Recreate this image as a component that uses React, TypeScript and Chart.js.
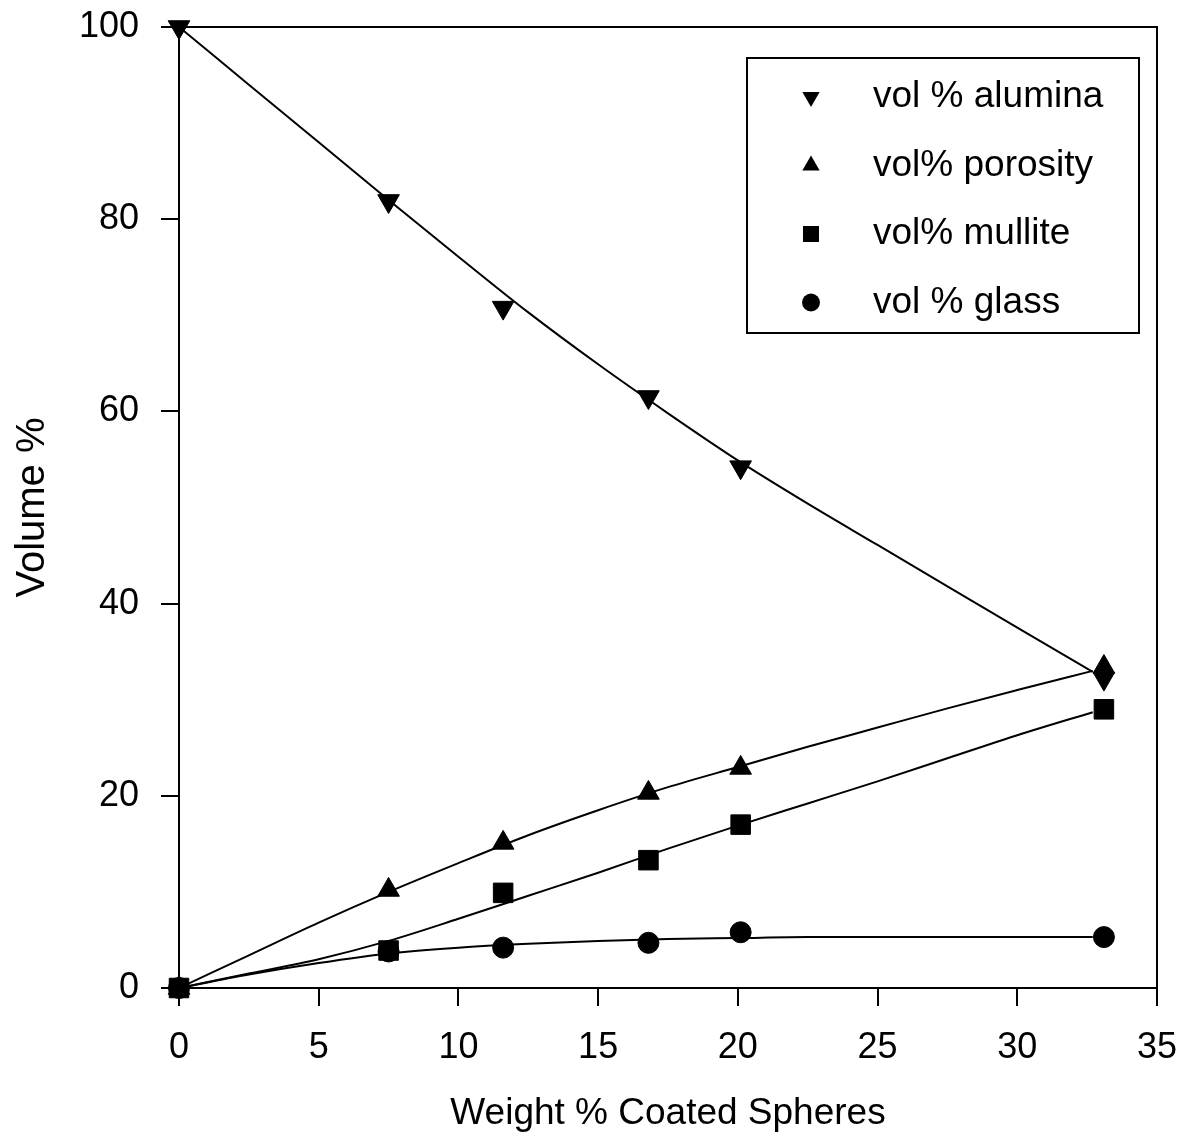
import React, { useEffect, useRef } from 'react';
import { Chart, registerables } from 'chart.js';

Chart.register(...registerables);

// ---- data ----
const pointX = [0, 7.5, 11.6, 16.8, 20.1, 33.1];
const aluminaPts = [100, 81.9, 70.8, 61.5, 54.2, 32.2];
const porosityPts = [0, 10.2, 15.1, 20.3, 22.9, 33.4];
const mullitePts = [0, 3.9, 9.9, 13.3, 17.0, 29.0];
const glassPts = [0, 3.8, 4.2, 4.7, 5.8, 5.3];

const fitX = [0, 2.5, 5, 7.5, 10, 12.5, 15, 17.5, 20, 22.5, 25, 27.5, 30, 32.7];
const aluminaFit = [100, 94.0, 88.0, 82.0, 76.1, 70.3, 64.9, 59.8, 54.9, 50.4, 46.1, 41.8, 37.5, 32.9];
const porosityFit = [0, 3.4, 6.8, 10.0, 13.0, 15.9, 18.5, 20.9, 23.0, 25.1, 27.1, 29.1, 31.0, 33.0];
const mulliteFit = [0, 1.5, 3.0, 4.9, 7.2, 9.6, 12.0, 14.5, 16.9, 19.2, 21.5, 23.9, 26.3, 28.7];
const glassFit = [0, 1.4, 2.6, 3.6, 4.2, 4.6, 4.9, 5.1, 5.2, 5.3, 5.3, 5.3, 5.3, 5.3];

const seriesLabels = ['vol % alumina', 'vol% porosity', 'vol% mullite', 'vol % glass'];
const xTitle = 'Weight % Coated Spheres';
const yTitle = 'Volume %';
const xMin = 0, xMax = 35, xStep = 5;
const yMin = 0, yMax = 100, yStep = 20;

const FONT = "'Liberation Sans', Arial, Helvetica, sans-serif";

const toPts = (xs: number[], ys: number[]) => xs.map((x, i) => ({ x, y: ys[i] }));

function drawMarker(ctx: CanvasRenderingContext2D, kind: string, x: number, y: number, r: number) {
  ctx.beginPath();
  if (kind === 'down') {
    const h = r * 0.866;
    ctx.moveTo(x - h, y - r * 0.5);
    ctx.lineTo(x + h, y - r * 0.5);
    ctx.lineTo(x, y + r);
    ctx.closePath();
  } else if (kind === 'up') {
    const h = r * 0.866;
    ctx.moveTo(x - h, y + r * 0.5);
    ctx.lineTo(x + h, y + r * 0.5);
    ctx.lineTo(x, y - r);
    ctx.closePath();
  } else if (kind === 'square') {
    ctx.rect(x - r, y - r, 2 * r, 2 * r);
  } else {
    ctx.arc(x, y, r, 0, Math.PI * 2);
  }
  ctx.fill();
}

const framePlugin = {
  id: 'frame',
  afterDatasetsDraw(chart: any) {
    const { ctx, chartArea } = chart;
    ctx.save();
    ctx.strokeStyle = '#000';
    ctx.lineWidth = 2;
    ctx.beginPath();
    ctx.moveTo(chartArea.left, chartArea.top);
    ctx.lineTo(chartArea.right, chartArea.top);
    ctx.lineTo(chartArea.right, chartArea.bottom);
    ctx.stroke();
    ctx.restore();
  },
};

const legendPlugin = {
  id: 'boxLegend',
  afterDraw(chart: any) {
    const { ctx } = chart;
    const box = { left: 747, top: 58, right: 1139, bottom: 333 };
    ctx.save();
    ctx.fillStyle = '#fff';
    ctx.fillRect(box.left, box.top, box.right - box.left, box.bottom - box.top);
    ctx.strokeStyle = '#000';
    ctx.lineWidth = 2;
    ctx.strokeRect(box.left, box.top, box.right - box.left, box.bottom - box.top);
    const kinds = ['down', 'up', 'square', 'circle'];
    const sizes = [10, 10, 8, 9];
    const rows = [97, 165.5, 234, 302.5];
    ctx.fillStyle = '#000';
    ctx.font = `37px ${FONT}`;
    ctx.textBaseline = 'middle';
    ctx.textAlign = 'left';
    seriesLabels.forEach((label, i) => {
      drawMarker(ctx, kinds[i], 811, rows[i], sizes[i]);
      ctx.fillText(label, 873, rows[i]);
    });
    ctx.restore();
  },
};

export default function App() {
  const ref = useRef<HTMLCanvasElement | null>(null);

  useEffect(() => {
    if (!ref.current) return;
    const lineDs = (data: number[]) => ({
      data: toPts(fitX, data),
      showLine: true,
      borderColor: '#000',
      borderWidth: 2,
      pointRadius: 0,
      pointHoverRadius: 0,
      cubicInterpolationMode: 'monotone' as const,
      fill: false,
      order: 10,
    });
    const markDs = (label: string, data: number[], style: string, radius: number, rotation: number, order: number) => ({
      label,
      data: toPts(pointX, data),
      showLine: false,
      pointStyle: style,
      pointRotation: rotation,
      pointRadius: radius,
      pointHoverRadius: radius,
      pointBackgroundColor: '#000',
      pointBorderColor: '#000',
      pointBorderWidth: 1,
      clip: false as any,
      order,
    });

    const chart = new Chart(ref.current, {
      type: 'scatter',
      data: {
        datasets: [
          lineDs(aluminaFit),
          lineDs(porosityFit),
          lineDs(mulliteFit),
          lineDs(glassFit),
          markDs(seriesLabels[3], glassPts, 'circle', 10.5, 0, 4),
          markDs(seriesLabels[0], aluminaPts, 'triangle', 12.5, 180, 3),
          markDs(seriesLabels[1], porosityPts, 'triangle', 12.5, 0, 2),
          markDs(seriesLabels[2], mullitePts, 'rect', 13.8, 0, 1),
        ] as any,
      },
      options: {
        animation: false,
        responsive: false,
        devicePixelRatio: 1,
        layout: { padding: { top: 27, right: 28, left: 0, bottom: 0 } },
        plugins: { legend: { display: false }, tooltip: { enabled: false } },
        scales: {
          x: {
            type: 'linear',
            min: xMin,
            max: xMax,
            afterFit: (s: any) => { s.height = 151; s.paddingLeft = 0; s.paddingRight = 0; },
            ticks: { stepSize: xStep, color: '#000', font: { family: FONT, size: 36 }, padding: 20, maxRotation: 0 },
            grid: { drawOnChartArea: false, drawTicks: true, tickLength: 18, color: '#000', lineWidth: 2 },
            border: { display: true, color: '#000', width: 2 },
            title: { display: true, text: xTitle, color: '#000', font: { family: FONT, size: 37 }, padding: { top: 0, bottom: 3 } },
          },
          y: {
            type: 'linear',
            min: yMin,
            max: yMax,
            afterFit: (s: any) => { s.width = 179; s.paddingTop = 0; s.paddingBottom = 0; },
            ticks: { stepSize: yStep, color: '#000', font: { family: FONT, size: 36 }, padding: 22 },
            grid: { drawOnChartArea: false, drawTicks: true, tickLength: 18, color: '#000', lineWidth: 2 },
            border: { display: true, color: '#000', width: 2 },
            title: { display: true, text: yTitle, color: '#000', font: { family: FONT, size: 40 }, padding: { top: 9, bottom: 0 } },
          },
        },
      },
      plugins: [framePlugin, legendPlugin],
    });
    return () => chart.destroy();
  }, []);

  return (
    <div style={{ position: 'absolute', left: 0, top: 0, width: 1185, height: 1139, background: '#fff' }}>
      <canvas ref={ref} width={1185} height={1139} style={{ display: 'block', width: 1185, height: 1139 }} />
    </div>
  );
}
